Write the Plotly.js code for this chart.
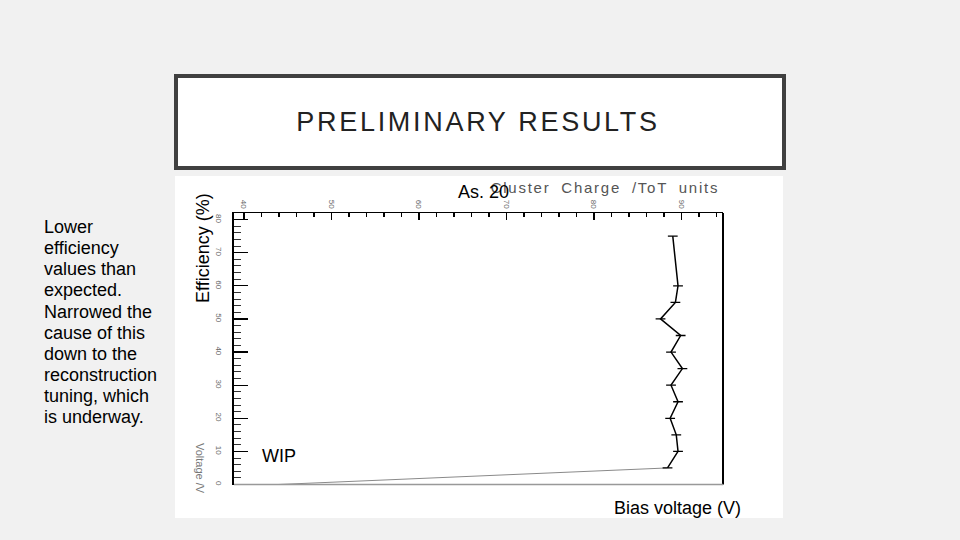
<!DOCTYPE html>
<html>
<head>
<meta charset="utf-8">
<script src="https://cdn.plot.ly/plotly-3.0.1.min.js"></script>
<style>
  html, body { margin: 0; padding: 0; background: #f1f1f1; }
  #chart { width: 960px; height: 540px; }
  .gtitle { letter-spacing: 2.7px; }
  .annotation[data-index="1"] text { letter-spacing: 1.75px; word-spacing: 5px; }
</style>
</head>
<body>
<div id="chart"></div>
<script>
// ---- data ----
const voltage = [75, 60, 55, 50, 45, 40, 35, 30, 25, 20, 15, 10, 5];
const efficiency = [89.0, 89.6, 89.3, 87.6, 89.9, 88.8, 90.1, 88.8, 89.6, 88.7, 89.4, 89.6, 88.4];
const tailVoltage = [5, 0];
const tailEfficiency = [88.4, 43.9];
const effTicks = [40, 50, 60, 70, 80, 90];
const voltTicks = [0, 10, 20, 30, 40, 50, 60, 70, 80];
const noteLines = ["Lower", "efficiency", "values than", "expected.", "Narrowed the",
                   "cause of this", "down to the", "reconstruction", "tuning, which", "is underway."];
const slideTitle = "PRELIMINARY RESULTS";
const effLabel = "Efficiency (%)";
const voltLabel = "Bias voltage (V)";
const sampleLabel = "As. 20";
const wipLabel = "WIP";
const rootXTitle = "Cluster Charge /ToT units";
const rootYTitle = "Voltage /V";

// ---- helpers (pixel -> paper) ----
const W = 960, H = 540;
const px = x => x / W;
const py = y => 1 - y / H;

const arial = "Liberation Sans, Arial, sans-serif";
const narrow = "Liberation Sans Narrow, Liberation Sans, Arial, sans-serif";

const traces = [
  {
    x: tailEfficiency, y: tailVoltage, type: "scatter", mode: "lines",
    line: { color: "#8a8a8a", width: 1 }, hoverinfo: "skip", showlegend: false
  },
  {
    x: efficiency, y: voltage, type: "scatter", mode: "lines+markers",
    line: { color: "#000", width: 1.5 },
    marker: { symbol: "line-ew-open", size: 7, color: "#000", line: { color: "#000", width: 1.3 } },
    showlegend: false
  }
];

const annotations = [];

annotations.push({
  text: voltLabel, xref: "paper", yref: "paper", x: px(612), y: py(508), xanchor: "left", yanchor: "middle",
  showarrow: false, font: { family: arial, size: 18, color: "#000" }
});
annotations.push({
  text: rootXTitle, xref: "paper", yref: "paper", x: px(518), y: py(188), xanchor: "left", yanchor: "middle",
  showarrow: false, font: { family: narrow, size: 15, color: "#555" }
});
annotations.push({
  text: sampleLabel, xref: "paper", yref: "paper", x: px(456), y: py(192.5), xanchor: "left", yanchor: "middle",
  showarrow: false, font: { family: arial, size: 18, color: "#000" }
});
annotations.push({
  text: wipLabel, xref: "paper", yref: "paper", x: px(260), y: py(456), xanchor: "left", yanchor: "middle",
  showarrow: false, font: { family: arial, size: 18, color: "#000" }
});
annotations.push({
  text: effLabel, xref: "paper", yref: "paper", x: px(203), y: py(248), xanchor: "center", yanchor: "middle",
  textangle: -90, showarrow: false, font: { family: arial, size: 18, color: "#000" }
});
annotations.push({
  text: rootYTitle, xref: "paper", yref: "paper", x: px(200), y: py(468), xanchor: "center", yanchor: "middle",
  textangle: 90, showarrow: false, font: { family: narrow, size: 11, color: "#777" }
});
noteLines.forEach((t, i) => {
  annotations.push({
    text: t, xref: "paper", yref: "paper", x: px(42), y: py(233.3 + i * 21.1 - 6.2),
    xanchor: "left", yanchor: "middle", showarrow: false,
    font: { family: arial, size: 18, color: "#000" }
  });
});

const shapes = [
  { type: "rect", xref: "paper", yref: "paper", x0: px(175), x1: px(783), y0: py(518), y1: py(176),
    fillcolor: "#fff", line: { width: 0 }, layer: "below" },
  { type: "rect", xref: "paper", yref: "paper", x0: px(176), x1: px(784), y0: py(168), y1: py(76),
    fillcolor: "#fff", line: { color: "#404040", width: 4 }, layer: "below" },
  { type: "line", xref: "x domain", yref: "y domain", x0: 1, x1: 1, y0: 0, y1: 1,
    line: { color: "#000", width: 2 } },
  { type: "line", xref: "x domain", yref: "y domain", x0: 0, x1: 1, y0: 0, y1: 0,
    line: { color: "#999", width: 1.5 } }
];

const layout = {
  width: W, height: H, autosize: false,
  margin: { l: 0, r: 0, t: 0, b: 0, pad: 0 },
  paper_bgcolor: "#f1f1f1",
  plot_bgcolor: "rgba(0,0,0,0)",
  title: {
    text: slideTitle, x: px(478), xanchor: "center", y: py(122), yanchor: "middle",
    font: { family: arial, size: 27, color: "#222" }
  },
  xaxis: {
    domain: [px(234), px(723)], range: [38.857, 94.74], side: "top",
    showgrid: false, zeroline: false, showline: true, linecolor: "#000", linewidth: 1.5,
    tickmode: "array", tickvals: effTicks, ticktext: effTicks.map(String),
    ticks: "inside", ticklen: 7, tickwidth: 1.5, tickcolor: "#000", tickangle: 90,
    tickfont: { family: narrow, size: 8, color: "#666" },
    minor: { dtick: 2, tick0: 40, ticks: "inside", ticklen: 4, tickwidth: 1.2, tickcolor: "#000", showgrid: false },
    fixedrange: true
  },
  yaxis: {
    domain: [py(484.5), py(213)], range: [0, 82.0],
    showgrid: false, zeroline: false, showline: true, linecolor: "#000", linewidth: 2,
    tickmode: "array", tickvals: voltTicks, ticktext: voltTicks.map(String),
    ticks: "inside", ticklen: 14, tickwidth: 1.2, tickcolor: "#000", tickangle: 90,
    ticklabelstandoff: 6,
    tickfont: { family: narrow, size: 8, color: "#666" },
    minor: { dtick: 2, tick0: 0, ticks: "inside", ticklen: 7, tickwidth: 1, tickcolor: "#333", showgrid: false },
    fixedrange: true
  },
  shapes: shapes,
  annotations: annotations,
  showlegend: false
};

Plotly.newPlot("chart", traces, layout, { displayModeBar: false, staticPlot: true });
</script>
</body>
</html>
